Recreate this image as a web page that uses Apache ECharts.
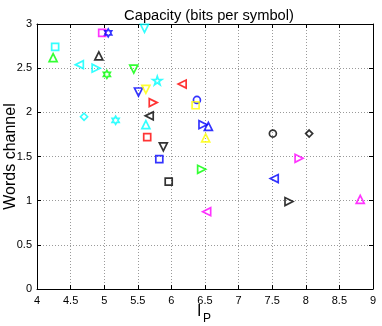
<!DOCTYPE html>
<html>
<head>
<meta charset="utf-8">
<script src="https://cdn.jsdelivr.net/npm/echarts@6/dist/echarts.min.js"></script>
<style>
html,body{margin:0;padding:0;background:#fff;}
#chart{width:382px;height:326px;}
</style>
</head>
<body>
<div id="chart"></div>
<script>
// ---- data ----
const ipValues   = [4.27, 4.24, 4.97, 5.06, 4.92, 4.63, 4.88, 5.04, 5.44, 5.51, 5.62, 5.60, 5.79, 6.16, 5.73, 6.38, 6.36, 5.67, 4.70, 5.17, 5.62, 5.64, 5.88, 5.82, 5.96, 6.47, 6.55, 6.51, 6.45, 6.525, 7.51, 8.05, 7.90, 7.53, 7.75, 8.81];
const capValues  = [2.74, 2.62, 2.90, 2.90, 2.64, 2.54, 2.50, 2.43, 2.49, 2.23, 2.26, 2.95, 2.36, 2.32, 2.11, 2.14, 2.08, 1.96, 1.95, 1.91, 1.86, 1.72, 1.61, 1.47, 1.215, 1.86, 1.84, 1.71, 1.355, 0.875, 1.76, 1.76, 1.48, 1.25, 0.99, 1.015];
const markerKinds = ['square','up','square','hexagram','up','left','right','hexagram','down','down','down','down','pentagram','left','right','circle','square','left','diamond','hexagram','up','square','down','square','square','right','up','up','right','left','circle','diamond','right','left','right','up'];
const markerColors = ['c','g','m','b','k','c','c','g','g','b','y','c','c','r','r','b','y','k','c','c','c','r','k','b','k','b','b','y','g','m','k','k','m','b','k','m'];
const xTicks = ['4','4.5','5','5.5','6','6.5','7','7.5','8','8.5','9'];
const yTicks = ['0','0.5','1','1.5','2','2.5','3'];
const titleText = 'Capacity (bits per symbol)';
const yLabel = 'Words channel';

// ---- styles ----
const colorMap = {b:'#0000FF', g:'#00FF00', r:'#FF0000', c:'#00FFFF', m:'#FF00FF', y:'#FFFF00', k:'#000000'};
function starPath(n, rOut, rIn) {
  let pts = [];
  for (let i = 0; i < 2*n; i++) {
    const a = -Math.PI/2 + i*Math.PI/n;
    const r = (i % 2 === 0) ? rOut : rIn;
    pts.push((10 + r*Math.cos(a)).toFixed(3) + ',' + (10 + r*Math.sin(a)).toFixed(3));
  }
  return 'path://M' + pts.join(' L') + ' Z';
}
const symbolMap = {
  square: 'path://M0,0 L10,0 L10,10 L0,10 Z',
  circle: 'circle',
  up: 'path://M0,10 L5,0 L10,10 Z',
  down: 'path://M0,0 L10,0 L5,10 Z',
  left: 'path://M10,0 L10,10 L0,5 Z',
  right: 'path://M0,0 L0,10 L10,5 Z',
  diamond: 'path://M5,0 L10,5 L5,10 L0,5 Z',
  hexagram: starPath(6, 10, 5.77),
  pentagram: starPath(5, 10, 3.82)
};
const sizeMap = {square:7, circle:7, up:8, down:8, left:8, right:8, diamond:7, hexagram:8, pentagram:9};

const points = ipValues.map((x, i) => ({
  value: [x, capValues[i]],
  symbol: symbolMap[markerKinds[i]],
  symbolSize: sizeMap[markerKinds[i]],
  symbolKeepAspect: true,
  itemStyle: {color: 'rgba(0,0,0,0)', borderColor: colorMap[markerColors[i]], borderWidth: 1.7}
}));

const FONT = 'Liberation Sans, Arial, sans-serif';
const gridLine = {show: true, lineStyle: {color: '#9a9a9a', type: [1, 2], width: 1}};
const axisLine = {show: true, onZero: false, lineStyle: {color: '#000', width: 1}};

const chart = echarts.init(document.getElementById('chart'), null, {renderer: 'canvas'});
chart.setOption({
  animation: false,
  backgroundColor: '#fff',
  title: {
    text: titleText, left: 204, top: 3, textAlign: 'center',
    textStyle: {fontFamily: FONT, fontSize: 14.7, fontWeight: 'normal', color: '#000'}
  },
  grid: {left: 37, right: 9, top: 24, bottom: 37, containLabel: false, outerBoundsMode: 'none'},
  xAxis: [{
    type: 'value', min: 4, max: 9, interval: 0.5, position: 'bottom',
    axisLine: axisLine,
    axisTick: {show: true, inside: true, length: 4, lineStyle: {color: '#000'}},
    axisLabel: {color: '#000', fontFamily: FONT, fontSize: 11, margin: 6,
      formatter: (v) => xTicks[Math.round((v - 4) / 0.5)]},
    splitLine: gridLine
  }, {
    type: 'value', min: 4, max: 9, interval: 0.5, position: 'top',
    axisLine: axisLine,
    axisTick: {show: true, inside: true, length: 4, lineStyle: {color: '#000'}},
    axisLabel: {show: false}, splitLine: {show: false}
  }],
  yAxis: [{
    type: 'value', min: 0, max: 3, interval: 0.5, position: 'left',
    axisLine: axisLine,
    axisTick: {show: true, inside: true, length: 4, lineStyle: {color: '#000'}},
    axisLabel: {color: '#000', fontFamily: FONT, fontSize: 11, margin: 5,
      formatter: (v) => yTicks[Math.round(v / 0.5)]},
    splitLine: gridLine,
    name: yLabel, nameLocation: 'middle', nameGap: 18, nameMoveOverlap: false,
    nameTextStyle: {fontFamily: FONT, fontSize: 16, color: '#000'}
  }, {
    type: 'value', min: 0, max: 3, interval: 0.5, position: 'right',
    axisLine: axisLine,
    axisTick: {show: true, inside: true, length: 4, lineStyle: {color: '#000'}},
    axisLabel: {show: false}, splitLine: {show: false}
  }],
  graphic: [
    {type: 'text', left: 197, top: 304, style: {text: 'I', font: '16px ' + FONT, fill: '#000'}},
    {type: 'text', left: 203, top: 313, style: {text: 'P', font: '12px ' + FONT, fill: '#000'}}
  ],
  series: [{
    type: 'scatter', xAxisIndex: 0, yAxisIndex: 0,
    data: points, z: 5
  }]
});
</script>
</body>
</html>
